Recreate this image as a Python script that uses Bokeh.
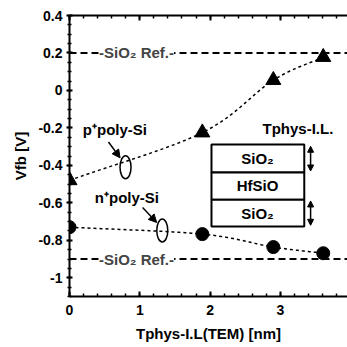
import numpy as np
from bokeh.plotting import figure
from bokeh.models import (Range1d, LinearAxis, FixedTicker, CustomJSTickFormatter,
                          Label, Arrow, NormalHead, Span)
from bokeh.embed import file_html
from bokeh.resources import INLINE

# ---- data ----
p_x = [0.0, 1.89, 2.9, 3.61]
p_vfb = [-0.48, -0.225, 0.055, 0.178]
n_x = [0.0, 1.89, 2.9, 3.61]
n_vfb = [-0.73, -0.767, -0.836, -0.869]
ref_levels = [0.2, -0.9]
x_ticks = [0, 1, 2, 3]
y_ticks = [-1.0, -0.8, -0.6, -0.4, -0.2, 0.0, 0.2, 0.4]

FONT = "Liberation Sans"


def catmull(xs, ys, n=40):
    P = np.column_stack([xs, ys]).astype(float)
    P = np.vstack([2 * P[0] - P[1], P, 2 * P[-1] - P[-2]])
    out = []
    for i in range(1, len(P) - 2):
        p0, p1, p2, p3 = P[i - 1], P[i], P[i + 1], P[i + 2]
        t = np.linspace(0, 1, n)[:, None]
        seg = 0.5 * ((2 * p1) + (-p0 + p2) * t + (2 * p0 - 5 * p1 + 4 * p2 - p3) * t ** 2
                     + (-p0 + 3 * p1 - 3 * p2 + p3) * t ** 3)
        out.append(seg if i == 1 else seg[1:])
    s = np.vstack(out)
    return s[:, 0], s[:, 1]


p = figure(width=347, height=347, frame_width=278, frame_height=281,
           min_border_left=69, min_border_right=0, min_border_top=15, min_border_bottom=51,
           x_range=Range1d(0, 3.955), y_range=Range1d(-1.1, 0.4),
           output_backend="svg", toolbar_location=None, outline_line_color=None)
p.grid.visible = False
p.background_fill_color = "white"
p.border_fill_color = "white"

x_minor = list(np.round(np.arange(0, 3.96, 0.2), 3))
y_minor = list(np.round(np.arange(-1.1, 0.41, 0.05), 3))

# axes
xa = p.xaxis[0]
xa.ticker = FixedTicker(ticks=x_ticks, minor_ticks=x_minor)
ya = p.yaxis[0]
ya.ticker = FixedTicker(ticks=y_ticks, minor_ticks=y_minor)
ya.formatter = CustomJSTickFormatter(code="return tick.toFixed(1).replace(/\\.0$/, '');")

for ax in (xa, ya):
    ax.axis_line_width = 2
    ax.major_tick_line_width = 2
    ax.minor_tick_line_width = 1.5
    ax.major_label_text_font = FONT
    ax.major_label_text_font_style = "bold"
    ax.major_label_text_font_size = "14px"
    ax.major_label_text_color = "black"
    ax.axis_label_text_font = FONT
    ax.axis_label_text_font_style = "bold"
    ax.axis_label_text_font_size = "15px"
    ax.axis_label_text_color = "black"

xa.axis_label = "Tphys-I.L(TEM) [nm]"
xa.major_tick_in = 5
xa.major_tick_out = 0
xa.minor_tick_in = 3
xa.minor_tick_out = 0
xa.major_label_standoff = 8
xa.axis_label_standoff = 7

ya.axis_label = "Vfb [V]"
ya.major_tick_in = 3
ya.major_tick_out = 3
ya.minor_tick_in = 2
ya.minor_tick_out = 2
ya.major_label_standoff = 4
ya.axis_label_standoff = 6

top = LinearAxis(ticker=FixedTicker(ticks=x_ticks, minor_ticks=x_minor),
                 formatter=CustomJSTickFormatter(code="return '';"),
                 major_label_text_font_size="6px", major_label_standoff=0,
                 major_tick_in=5, major_tick_out=0, minor_tick_in=3, minor_tick_out=0,
                 axis_line_width=2, major_tick_line_width=2, minor_tick_line_width=1.5)
p.add_layout(top, "above")

# reference lines
for lv in ref_levels:
    p.add_layout(Span(location=lv, dimension="width", line_color="black",
                      line_width=2, line_dash="7 4"))
    p.add_layout(Label(x=0.42, y=lv, text="-SiO₂ Ref.-", text_font=FONT,
                       text_font_style="bold", text_font_size="15px",
                       text_baseline="middle", text_align="left",
                       background_fill_color="white"))

# fit curves
cx, cy = catmull(p_x, p_vfb)
p.line(cx, cy, line_color="black", line_width=1.5, line_dash="3 3")
cx, cy = catmull(n_x, n_vfb)
p.line(cx, cy, line_color="black", line_width=1.5, line_dash="3 3")

# markers
p.scatter(p_x, p_vfb, marker="triangle", size=15, color="black")
p.scatter(n_x, n_vfb, marker="circle", size=13, color="black")


def lbl(x, y, t, align="left"):
    p.add_layout(Label(x=x, y=y, text=t, text_font=FONT, text_font_style="bold",
                       text_font_size="15px", text_baseline="middle", text_align=align,
                       text_color="black"))


lbl(0.19, -0.209, "p⁺poly-Si")
lbl(0.36, -0.573, "n⁺poly-Si")
lbl(3.25, -0.204, "Tphys-I.L.", "center")

# ellipses and arrows
p.ellipse(x=[0.797, 1.32], y=[-0.41, -0.748], width=11, height=23,
          width_units="screen", height_units="screen",
          fill_color=None, line_color="black", line_width=1.5)
p.add_layout(Arrow(end=NormalHead(size=8, fill_color="black", line_color="black"),
                   x_start=0.555, y_start=-0.275, x_end=0.72, y_end=-0.36,
                   line_width=1.5))
p.add_layout(Arrow(end=NormalHead(size=8, fill_color="black", line_color="black"),
                   x_start=1.04, y_start=-0.625, x_end=1.24, y_end=-0.705,
                   line_width=1.5))

# layer stack
p.quad(left=[2.02, 2.02, 2.02], right=[3.34, 3.34, 3.34],
       top=[-0.289, -0.438, -0.583], bottom=[-0.438, -0.583, -0.727],
       fill_color="white", line_color="black", line_width=2)
lbl(2.675, -0.364, "SiO₂", "center")
lbl(2.675, -0.51, "HfSiO", "center")
lbl(2.675, -0.655, "SiO₂", "center")

for (a, b) in [(-0.298, -0.43), (-0.59, -0.72)]:
    p.add_layout(Arrow(start=NormalHead(size=6, fill_color="black", line_color="black"),
                       end=NormalHead(size=6, fill_color="black", line_color="black"),
                       x_start=3.43, y_start=a, x_end=3.43, y_end=b, line_width=1.5))

open("out.html", "w").write(file_html(p, INLINE))
